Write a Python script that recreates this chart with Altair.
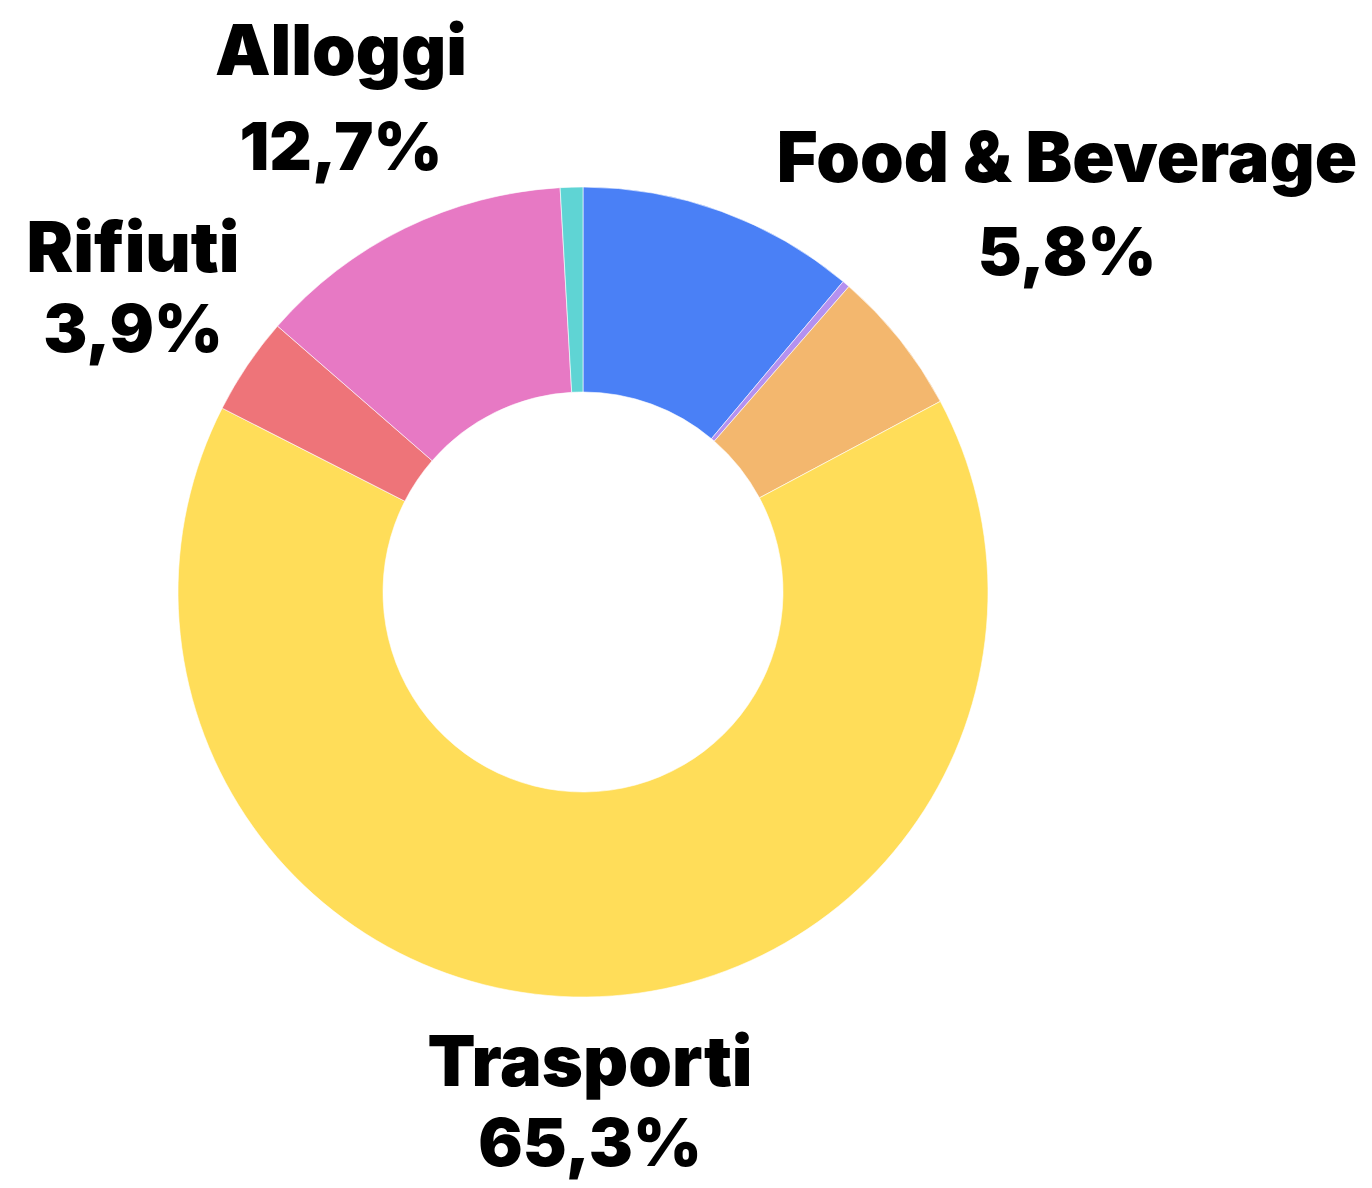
import altair as alt
import pandas as pd

# Data (clockwise from 12 o'clock)
categories = ["Altro A", "Altro B", "Food & Beverage", "Trasporti", "Rifiuti", "Alloggi", "Altro C"]
values = [11.1, 0.3, 5.8, 65.3, 3.9, 12.7, 0.9]
colors = ["#4a80f6", "#b491f0", "#f3b76e", "#ffdd59", "#ee7479", "#e779c4", "#5fd4d4"]

label_names = ["Alloggi", "Food & Beverage", "Rifiuti", "Trasporti"]
label_values = ["12,7%", "5,8%", "3,9%", "65,3%"]

# Layout (label anchor positions in chart pixels)
label_x = [333, 1059, 125, 582]
label_name_y = [67, 174, 264, 1078]
label_value_y = [162, 267, 344, 1158]

df = pd.DataFrame({"cat": categories, "val": values, "idx": list(range(len(categories)))})
ldf = pd.DataFrame({
    "name": label_names, "pct": label_values,
    "x": label_x, "yn": label_name_y, "yv": label_value_y,
})

cx, cy = 575, 584

donut = alt.Chart(df).mark_arc(
    outerRadius=405, innerRadius=200, stroke="white", strokeWidth=0.6
).encode(
    theta=alt.Theta("val:Q", stack=True),
    order=alt.Order("idx:Q", sort="ascending"),
    color=alt.Color("cat:N", scale=alt.Scale(domain=categories, range=colors), legend=None),
    x=alt.value(cx),
    y=alt.value(cy),
)

font = "Inter"
names = alt.Chart(ldf).mark_text(
    font=font, fontSize=70, fontWeight=900, color="#000000", align="center", baseline="alphabetic"
).encode(
    x=alt.X("x:Q", scale=None),
    y=alt.Y("yn:Q", scale=None),
    text="name:N",
)
pcts = alt.Chart(ldf).mark_text(
    font=font, fontSize=66, fontWeight=900, color="#000000", align="center", baseline="alphabetic"
).encode(
    x=alt.X("x:Q", scale=None),
    y=alt.Y("yv:Q", scale=None),
    text="pct:N",
)

chart = alt.layer(donut, names, pcts).properties(
    width=1356, height=1172,
    autosize=alt.AutoSizeParams(type="fit", contains="padding"),
    padding=0,
    background="#ffffff",
).configure_view(stroke=None)

chart.save("out.html", embed_options={"renderer": "svg", "actions": False})
